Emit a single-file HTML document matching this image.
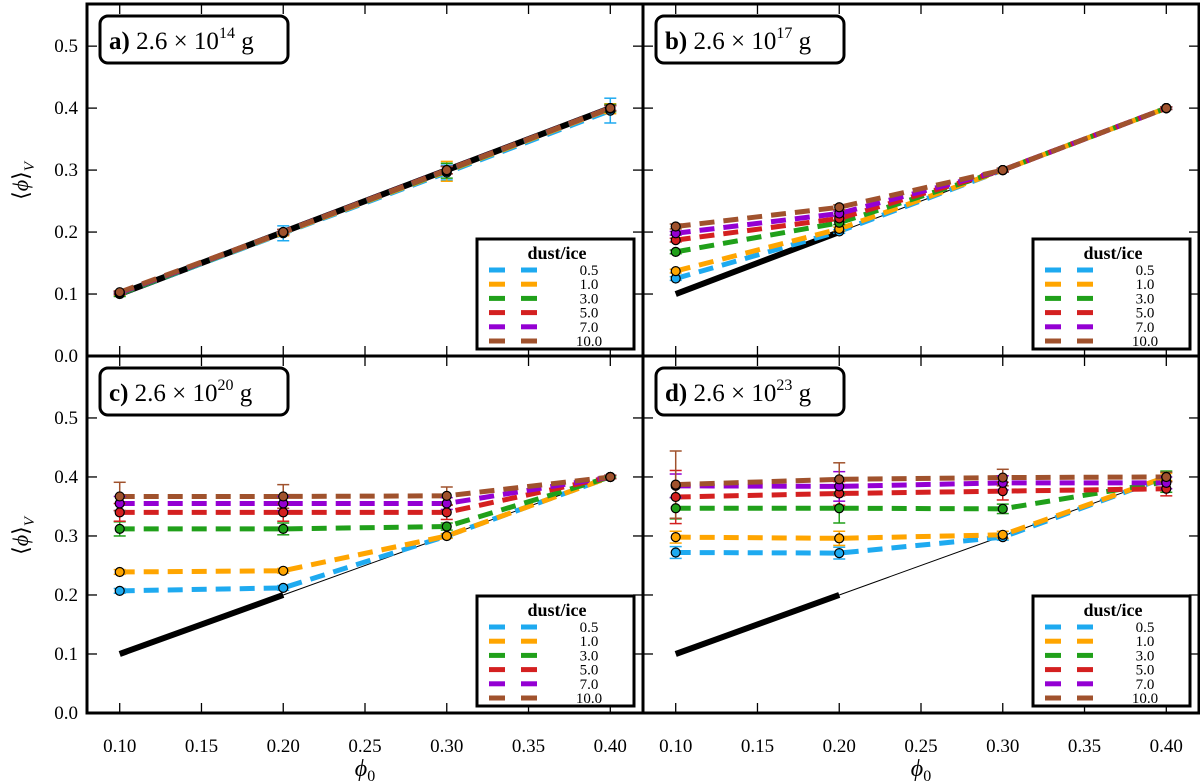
<!DOCTYPE html>
<html><head><meta charset="utf-8"><style>
html,body{margin:0;padding:0;background:#fff}
svg{display:block;font-family:"Liberation Serif",serif}
</style></head><body>
<svg id="fig" width="1200" height="782" viewBox="0 0 1200 782" xmlns="http://www.w3.org/2000/svg"></svg>
<script>
const phi0 = [0.1, 0.2, 0.3, 0.4];
const ratios = ["0.5","1.0","3.0","5.0","7.0","10.0"];
const colors = ["#1eaaf0","#ffa500","#20a01a","#d42020","#9400d3","#a0522d"];
const xTicks = [0.10,0.15,0.20,0.25,0.30,0.35,0.40];
const yTicks = [0.0,0.1,0.2,0.3,0.4,0.5];
const panelTitles = ["a)","b)","c)","d)"];
const panelExps = ["14","17","20","23"];
const valsA = [[0.100,0.198,0.296,0.396],[0.101,0.199,0.298,0.399],[0.100,0.200,0.299,0.400],[0.102,0.200,0.300,0.400],[0.102,0.200,0.300,0.400],[0.103,0.200,0.300,0.400]];
const valsB = [[0.125,0.201,0.300,0.400],[0.137,0.205,0.300,0.400],[0.168,0.215,0.300,0.400],[0.187,0.222,0.300,0.400],[0.198,0.230,0.300,0.400],[0.209,0.240,0.300,0.400]];
const valsC = [[0.207,0.212,0.300,0.400],[0.239,0.241,0.300,0.400],[0.312,0.312,0.316,0.400],[0.340,0.340,0.340,0.400],[0.355,0.355,0.355,0.400],[0.367,0.367,0.368,0.400]];
const valsD = [[0.272,0.271,0.298,0.400],[0.298,0.296,0.302,0.400],[0.347,0.347,0.346,0.392],[0.366,0.372,0.376,0.380],[0.385,0.384,0.390,0.390],[0.387,0.396,0.399,0.400]];
const errA = [[0.003,0.012,0.012,0.020],[0.003,0.005,0.016,0.008],[0.004,0.004,0.012,0.006],[0.002,0.004,0.006,0.004],[0.002,0.004,0.006,0.004],[0.002,0.004,0.006,0.004]];
const errB = [[0.003,0.003,0.003,0.002],[0.003,0.003,0.003,0.002],[0.003,0.003,0.003,0.002],[0.003,0.003,0.003,0.002],[0.003,0.004,0.003,0.002],[0.004,0.004,0.003,0.002]];
const errC = [[0.004,0.004,0.003,0.002],[0.004,0.004,0.004,0.002],[0.012,0.010,0.006,0.002],[0.015,0.015,0.012,0.003],[0.012,0.012,0.010,0.003],[0.024,0.020,0.015,0.003]];
const errD = [[0.010,0.010,0.005,0.008],[0.010,0.012,0.006,0.006],[0.018,0.025,0.008,0.018],[0.045,0.020,0.015,0.012],[0.020,0.025,0.012,0.010],[0.057,0.028,0.014,0.008]];
const allVals = [valsA, valsB, valsC, valsD];
const allErr = [errA, errB, errC, errD];

const NS = "http://www.w3.org/2000/svg";
const svg = document.getElementById("fig");
function mk(tag, attrs, parent){const e=document.createElementNS(NS,tag);for(const k in attrs)e.setAttribute(k,attrs[k]);(parent||svg).appendChild(e);return e;}

const XMIN=0.08, XMAX=0.42;
const panels = [
  {x0:87,x1:643,y0:4,y1:356,ymax:0.568},
  {x0:643,x1:1199,y0:4,y1:356,ymax:0.568},
  {x0:87,x1:643,y0:356,y1:713,ymax:0.605},
  {x0:643,x1:1199,y0:356,y1:713,ymax:0.605}
];
panels.forEach((p,pi)=>{
  const sx = v => p.x0 + (v-XMIN)/(XMAX-XMIN)*(p.x1-p.x0);
  const sy = v => p.y1 - v/p.ymax*(p.y1-p.y0);
  const g = mk("g",{});
  
  
  const ref = mk("g",{},g);
  
  
  mk("line",{x1:sx(0.1),y1:sy(0.1),x2:sx(0.2),y2:sy(0.2),stroke:"#000","stroke-width":6},ref);
  mk("line",{x1:sx(0.2),y1:sy(0.2),x2:sx(0.4),y2:sy(0.4),stroke:"#000","stroke-width":pi===0?6:1},ref);
  const vals = allVals[pi], errs = allErr[pi];
  vals.forEach((series,si)=>{
    const sg = mk("g",{},g);
    
    
    const pts = series.map((v,i)=>sx(phi0[i])+","+sy(v)).join(" ");
    mk("polyline",{points:pts,fill:"none",stroke:colors[si],"stroke-width":5,"stroke-dasharray":"15 9"},sg);
  });
  vals.forEach((series,si)=>{
    series.forEach((v,i)=>{
      const x=sx(phi0[i]), e=errs[si][i];
      const eb = mk("g",{stroke:colors[si],"stroke-width":1.5},g);
      
      
      mk("line",{x1:x,y1:sy(v-e),x2:x,y2:sy(v+e)},eb);
      mk("line",{x1:x-6,y1:sy(v-e),x2:x+6,y2:sy(v-e)},eb);
      mk("line",{x1:x-6,y1:sy(v+e),x2:x+6,y2:sy(v+e)},eb);
    });
  });
  vals.forEach((series,si)=>{
    series.forEach((v,i)=>{
      const c = mk("circle",{cx:sx(phi0[i]),cy:sy(v),r:4.5,fill:colors[si],stroke:"#000","stroke-width":1.2},g);
      
      
    });
  });
  mk("rect",{x:p.x0,y:p.y0,width:p.x1-p.x0,height:p.y1-p.y0,fill:"none",stroke:"#000","stroke-width":3},g);
  xTicks.forEach(t=>{
    const x=sx(t);
    mk("line",{x1:x,y1:p.y1,x2:x,y2:p.y1-10,stroke:"#000","stroke-width":1.3},g);
    mk("line",{x1:x,y1:p.y0,x2:x,y2:p.y0+10,stroke:"#000","stroke-width":1.3},g);
    if(pi>=2){
      const tl = mk("text",{x:x,y:752,"text-anchor":"middle","font-size":19},g);
      tl.textContent=t.toFixed(2);
      
      
    }
  });
  yTicks.forEach(t=>{
    const y=sy(t);
    mk("line",{x1:p.x0,y1:y,x2:p.x0+10,y2:y,stroke:"#000","stroke-width":1.3},g);
    mk("line",{x1:p.x1,y1:y,x2:p.x1-10,y2:y,stroke:"#000","stroke-width":1.3},g);
    if(pi%2===0){
      const tl = mk("text",{x:78,y:y+6,"text-anchor":"end","font-size":19},g);
      tl.textContent=t.toFixed(1);
      
      
    }
  });
  const tb = mk("g",{},g);
  
  
  const bx=p.x0+13, by=p.y0+12;
  mk("rect",{x:bx,y:by,width:188,height:47,rx:8,fill:"#fff",stroke:"#000","stroke-width":3},tb);
  const tt = mk("text",{x:bx+9,y:by+33,"font-size":25},tb);
  const b1 = mk("tspan",{"font-weight":"bold"},tt); b1.textContent=panelTitles[pi]+" ";
  const b2 = mk("tspan",{},tt); b2.textContent="2.6 × 10";
  const b3 = mk("tspan",{"font-size":16,dy:-11},tt); b3.textContent=panelExps[pi];
  const b4 = mk("tspan",{dy:11},tt); b4.textContent=" g";
  const lg = mk("g",{},g);
  
  
  const lx=p.x1-166, ly=p.y1-117;
  mk("rect",{x:lx,y:ly,width:157,height:110,fill:"#fff",stroke:"#000","stroke-width":3},lg);
  const lt = mk("text",{x:lx+80,y:ly+20,"text-anchor":"middle","font-size":18,"font-weight":"bold"},lg);
  lt.textContent="dust/ice";
  ratios.forEach((r,si)=>{
    const yy = ly+31+si*14.2;
    const le = mk("g",{},lg);
    
    
    mk("line",{x1:lx+12,y1:yy,x2:lx+28,y2:yy,stroke:colors[si],"stroke-width":5},le);
    mk("line",{x1:lx+44,y1:yy,x2:lx+60,y2:yy,stroke:colors[si],"stroke-width":5},le);
    const t = mk("text",{x:lx+112,y:yy+5,"text-anchor":"middle","font-size":15},le);
    t.textContent=r;
  });
});
[181,536].forEach(cy=>{
  const t = mk("text",{x:0,y:0,"font-size":22,"text-anchor":"middle",transform:`translate(28,${cy}) rotate(-90)`});
  
  
  t.innerHTML='⟨<tspan font-style="italic">ϕ</tspan>⟩<tspan font-size="15" font-style="italic" dy="6">V</tspan>';
});
[365,921].forEach(cx=>{
  const t = mk("text",{x:cx,y:776,"font-size":24,"text-anchor":"middle"});
  
  
  t.innerHTML='<tspan font-style="italic">ϕ</tspan><tspan font-size="16" dy="5">0</tspan>';
});
</script>
</body></html>
